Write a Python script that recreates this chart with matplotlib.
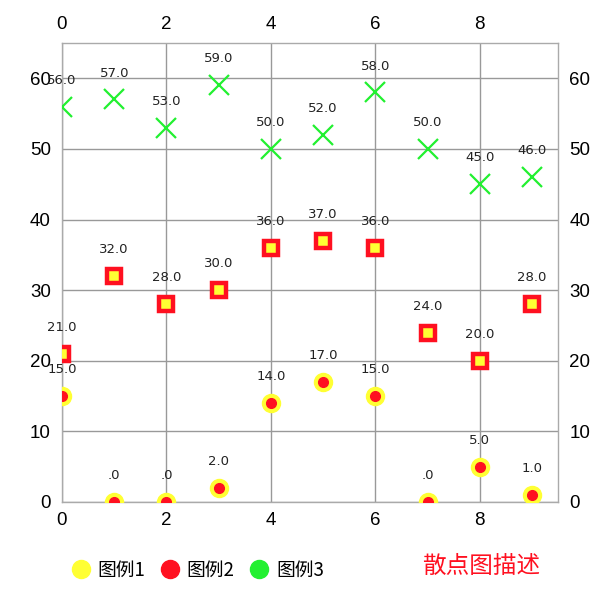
import matplotlib
matplotlib.use("Agg")
import matplotlib.pyplot as plt
from matplotlib.lines import Line2D

plt.rcParams['font.family'] = ['Noto Sans CJK SC', 'DejaVu Sans']

x = [0, 1, 2, 3, 4, 5, 6, 7, 8, 9]
series1 = [15, 0, 0, 2, 14, 17, 15, 0, 5, 1]
series2 = [21, 32, 28, 30, 36, 37, 36, 24, 20, 28]
series3 = [56, 57, 53, 59, 50, 52, 58, 50, 45, 46]
labels1 = ["15.0", ".0", ".0", "2.0", "14.0", "17.0", "15.0", ".0", "5.0", "1.0"]
labels2 = ["21.0", "32.0", "28.0", "30.0", "36.0", "37.0", "36.0", "24.0", "20.0", "28.0"]
labels3 = ["56.0", "57.0", "53.0", "59.0", "50.0", "52.0", "58.0", "50.0", "45.0", "46.0"]
legend_names = ["图例1", "图例2", "图例3"]
description = "散点图描述"
xticks = [0, 2, 4, 6, 8]
yticks = [0, 10, 20, 30, 40, 50, 60]

yellow = "#FFFF33"
red = "#FF1020"
green = "#22F030"

fig = plt.figure(figsize=(6.04, 6.04), dpi=100)
ax = fig.add_axes([0.1026, 0.1689, 0.8215, 0.7599])
ax.set_xlim(0, 9.5)
ax.set_ylim(0, 65)
ax.set_xticks(xticks)
ax.set_yticks(yticks)
ax.tick_params(axis='both', which='both', length=0, labelsize=13.5, pad=7,
               top=True, right=True, labeltop=True, labelright=True)
ax.tick_params(axis='y', pad=8)
for lab in ax.get_xticklabels() + ax.get_yticklabels():
    lab.set_family('Liberation Sans')
ax.grid(True, color='#999999', linewidth=1)
ax.set_axisbelow(True)
for s in ax.spines.values():
    s.set_color('#aaaaaa')
    s.set_linewidth(1)

# series 1: yellow circles with red center
ax.plot(x, series1, linestyle='none', marker='o', markersize=13,
        markerfacecolor=yellow, markeredgecolor=yellow, zorder=3)
ax.plot(x, series1, linestyle='none', marker='o', markersize=7,
        markerfacecolor=red, markeredgecolor=red, zorder=4)
# series 2: red squares with yellow center
ax.plot(x, series2, linestyle='none', marker='s', markersize=10.5,
        markerfacecolor=yellow, markeredgecolor=red, markeredgewidth=3.2, zorder=3)
# series 3: green crosses
ax.plot(x, series3, linestyle='none', marker='x', markersize=14,
        color=green, markeredgewidth=1.6, zorder=3)

for xs, ys, ls in [(x, series1, labels1), (x, series2, labels2), (x, series3, labels3)]:
    for xi, yi, li in zip(xs, ys, ls):
        ax.annotate(li, (xi, yi), xytext=(0, 19), textcoords='offset points',
                    ha='center', va='center', fontsize=9.5, color='#222222',
                    family='DejaVu Sans', annotation_clip=False)

handles = [
    Line2D([], [], linestyle='none', marker='o', markersize=13,
           markerfacecolor=c, markeredgecolor=c)
    for c in [yellow, red, green]
]
fig.legend(handles, legend_names, loc='center left', bbox_to_anchor=(0.087, 0.056),
           ncol=3, frameon=False, fontsize=13.5, handletextpad=0.3,
           columnspacing=0.7, handlelength=1.2)
fig.text(0.797, 0.062, description, color=red, fontsize=17, ha='center', va='center')

fig.savefig("out.png", dpi=100)
